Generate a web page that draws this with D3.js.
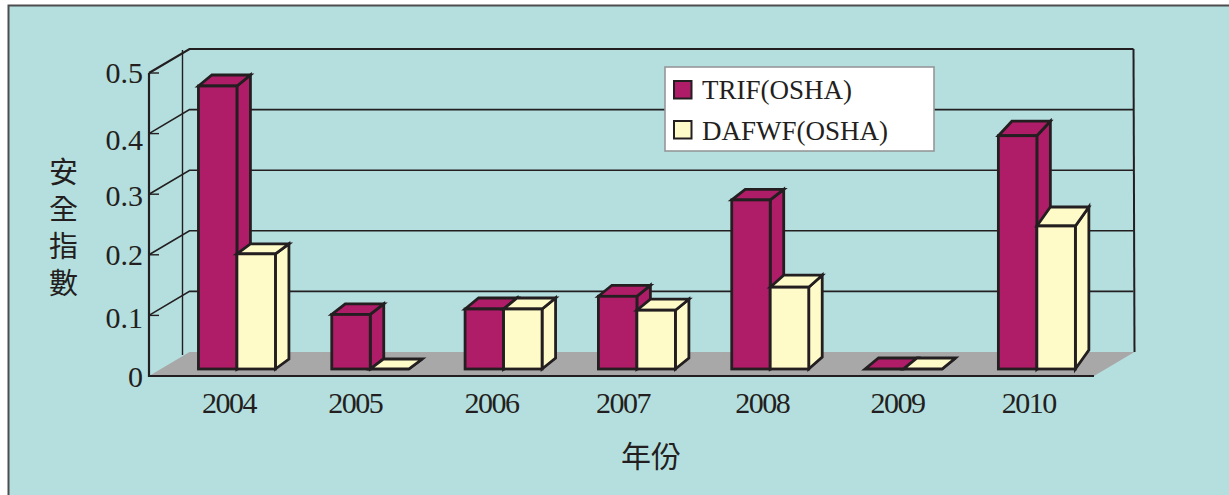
<!DOCTYPE html>
<html lang="zh-Hant">
<head>
<meta charset="UTF-8">
<title>安全指數</title>
<style>
html, body { margin: 0; padding: 0; background: #fff; overflow: hidden; }
svg { display: block; }
.num { font-family: "Liberation Serif", serif; fill: #231f20; }
.cjk { font-family: "Noto Sans CJK TC", sans-serif; fill: #231f20; }
</style>
</head>
<body>
<svg width="1229" height="495"></svg>
<script src="https://d3js.org/d3.v7.min.js"></script>
<script>
const years = ['2004', '2005', '2006', '2007', '2008', '2009', '2010'];
const seriesNames = ['TRIF(OSHA)', 'DAFWF(OSHA)'];
const trif = [0.467, 0.09, 0.099, 0.12, 0.279, 0, 0.385];
const dafwf = [0.19, 0, 0.099, 0.097, 0.135, 0, 0.236];
const yTicks = [0, 0.1, 0.2, 0.3, 0.4, 0.5];
const yTitle = '安全指數';
const xTitle = '年份';

const INK = '#231f20';
const colors = ['#af1c67', '#fffbc8'];

// layout of the fake 3d box
const front = { left: 149, right: 1094, top: 73, bottom: 376 };
const wall = { dx: 40.5, dy: -24 };
const barBaseShift = -7;   // bars stand a bit back from the front edge
const barDepthX = 13.5;
// the source drawing is not a true projection, the top faces differ a little
const barDepthY = {
    '2004': [-11, -10], '2005': [-10.5, -10], '2006': [-11, -11], '2007': [-11, -11],
    '2008': [-10.5, -12], '2009': [-11, -11], '2010': [-14.5, -19]
};
const labelNudge = { '2004': -8, '2005': -15, '2006': -12, '2007': -14, '2008': -8, '2009': -6, '2010': -8 };
const tickNudge = { 0: 1, 0.1: 2.5, 0.2: 0, 0.3: 1, 0.4: 5.5, 0.5: 0 };

const svg = d3.select('svg');

// panel
svg.append('rect')
    .attr('x', 8.5).attr('y', 5.5)
    .attr('width', 1240).attr('height', 520)
    .attr('fill', '#b5dfdf')
    .attr('stroke', '#4d4d4f')
    .attr('stroke-width', 2);

const x = d3.scaleBand().domain(years).range([170.3, 1103.5]).paddingInner(0.4225).paddingOuter(0.211);
const x1 = d3.scaleBand().domain(d3.range(seriesNames.length)).range([0, x.bandwidth()]);
const y = d3.scaleLinear().domain([0, 0.5]).range([front.bottom, front.top]);

const line = d3.line();

// floor
svg.append('path')
    .attr('d', line([
        [front.left, front.bottom],
        [front.left + wall.dx, front.bottom + wall.dy],
        [front.right + wall.dx, front.bottom + wall.dy],
        [front.right, front.bottom]
    ]) + 'Z')
    .attr('fill', '#a9a8a8');

// gridlines, front edge -> back wall -> right
const grid = svg.append('g').attr('fill', 'none').attr('stroke', INK);
yTicks.filter(d => d > 0).forEach(d => {
    grid.append('path')
        .attr('d', line([
            [front.left, y(d)],
            [front.left + wall.dx, y(d) + wall.dy],
            [front.right + wall.dx - 1, y(d) + wall.dy]
        ]))
        .attr('stroke-width', d === 0.5 ? 2.2 : 1.6);
    grid.append('path')
        .attr('d', line([[front.left, y(d)], [front.left + 10, y(d)]]))
        .attr('stroke-width', 1.4);
});

// box edges
grid.append('path')
    .attr('d', line([[front.left + 33.5, 50], [front.left + 33.5, front.bottom + wall.dy + 3]]))
    .attr('stroke-width', 1.4);
grid.append('path')
    .attr('d', line([[front.left, front.top], [front.left, front.bottom], [front.right, front.bottom]]))
    .attr('stroke-width', 2.2);
grid.append('path')
    .attr('d', line([[front.right + wall.dx - 1, y(0.5) + wall.dy], [front.right + wall.dx, front.bottom + wall.dy]]))
    .attr('stroke-width', 2);

// bars
const values = [trif, dafwf];
const groups = svg.selectAll('.year')
    .data(years)
    .join('g')
    .attr('class', 'year')
    .attr('transform', d => `translate(${x(d)},0)`);

groups.each(function(year, i) {
    const g = d3.select(this);
    values.forEach((vals, s) => {
        const x0 = x1(s);
        const x2 = x0 + x1.bandwidth();
        const yTop = y(vals[i]) + barBaseShift;
        const yBase = y(0) + barBaseShift;
        const dy = barDepthY[year][s];
        const bar = g.append('g')
            .attr('fill', colors[s])
            .attr('stroke', INK)
            .attr('stroke-width', 2.8)
            .attr('stroke-linejoin', 'miter');
        bar.append('path').attr('d', line([
            [x2, yBase], [x2 + barDepthX, yBase + dy], [x2 + barDepthX, yTop + dy], [x2, yTop]
        ]) + 'Z');
        bar.append('path').attr('d', line([
            [x0, yTop], [x0 + barDepthX, yTop + dy], [x2 + barDepthX, yTop + dy], [x2, yTop]
        ]) + 'Z');
        bar.append('rect')
            .attr('x', x0)
            .attr('y', yTop)
            .attr('width', x1.bandwidth())
            .attr('height', yBase - yTop);
    });
});

// axes
const yAxis = svg.append('g')
    .attr('class', 'num')
    .attr('transform', `translate(${front.left},0)`)
    .call(d3.axisLeft(y).tickValues(yTicks).tickSize(0).tickPadding(6).tickFormat(d => d === 0 ? '0' : d3.format('.1f')(d)));
yAxis.select('.domain').remove();
yAxis.attr('font-family', null);
yAxis.selectAll('text')
    .attr('font-size', 30)
    .attr('fill', INK)
    .attr('x', -6)
    .attr('y', d => tickNudge[d])
    .attr('dy', '0.33em');

const xAxis = svg.append('g')
    .attr('class', 'num')
    .attr('transform', `translate(0,${front.bottom})`)
    .call(d3.axisBottom(x).tickSize(0).tickPadding(0));
xAxis.select('.domain').remove();
xAxis.attr('font-family', null);
xAxis.selectAll('text')
    .attr('font-size', 30)
    .attr('letter-spacing', -1.5)
    .attr('fill', INK)
    .attr('x', d => labelNudge[d])
    .attr('y', 37)
    .attr('dy', 0);

// axis titles
svg.append('text')
    .attr('class', 'cjk')
    .attr('font-size', 29)
    .attr('letter-spacing', 8)
    .attr('x', 63.5)
    .attr('y', 157)
    .style('writing-mode', 'vertical-rl')
    .text(yTitle);

svg.append('text')
    .attr('class', 'cjk')
    .attr('font-size', 30)
    .attr('text-anchor', 'middle')
    .attr('x', 651)
    .attr('y', 467)
    .text(xTitle);

// legend
const legend = svg.append('g');
legend.append('rect')
    .attr('x', 665).attr('y', 67)
    .attr('width', 269).attr('height', 84)
    .attr('fill', '#fff')
    .attr('stroke', '#949698')
    .attr('stroke-width', 1.6);
seriesNames.forEach((name, i) => {
    legend.append('rect')
        .attr('x', 674).attr('y', 81 + i * 40)
        .attr('width', 17.5).attr('height', 17.5)
        .attr('fill', colors[i])
        .attr('stroke', INK)
        .attr('stroke-width', 2);
    legend.append('text')
        .attr('class', 'num')
        .attr('font-size', 27)
        .attr('x', 702)
        .attr('y', 98.5 + i * 41.5)
        .text(name);
});
</script>
</body>
</html>
